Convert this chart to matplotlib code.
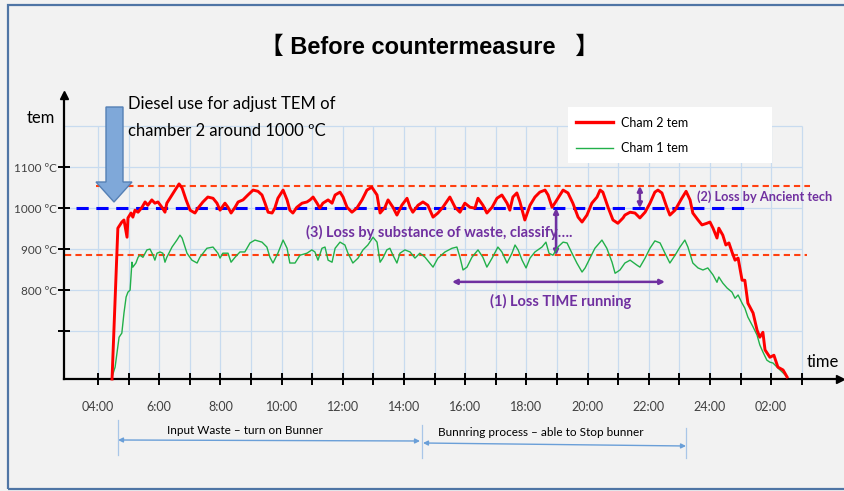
import matplotlib

matplotlib.use("Agg")
import matplotlib.pyplot as plt
from matplotlib.lines import Line2D
from matplotlib.patches import FancyArrowPatch, Polygon, Rectangle

W, H = 845, 491

# Chamber 2 temperature (hour of day, degC) - red
cham2_hours = [4.46, 4.65, 4.78, 4.85, 4.95, 4.98, 5.08, 5.14, 5.21, 5.31, 5.44, 5.54, 5.63, 5.76,
               5.86, 5.96, 6.09, 6.19, 6.25, 6.35, 6.52, 6.65, 6.75, 6.88, 7.01, 7.17, 7.27, 7.43,
               7.59, 7.76, 7.89, 7.99, 8.15, 8.25, 8.35, 8.48, 8.58, 8.74, 8.90, 9.07, 9.23, 9.36,
               9.46, 9.56, 9.69, 9.78, 9.88, 10.05, 10.18, 10.27, 10.37, 10.50, 10.67, 10.83,
               10.93, 11.03, 11.16, 11.25, 11.35, 11.52, 11.65, 11.75, 11.91, 12.01, 12.14, 12.30,
               12.46, 12.63, 12.79, 12.95, 13.12, 13.22, 13.38, 13.48, 13.64, 13.77, 13.93, 14.10,
               14.20, 14.29, 14.46, 14.62, 14.78, 14.95, 15.11, 15.27, 15.50, 15.67, 15.83, 15.99,
               16.16, 16.32, 16.42, 16.58, 16.71, 16.88, 17.04, 17.20, 17.37, 17.46, 17.56, 17.69,
               17.79, 17.95, 18.12, 18.28, 18.44, 18.61, 18.71, 18.84, 18.93, 19.03, 19.20, 19.36,
               19.52, 19.69, 19.82, 19.98, 20.14, 20.31, 20.41, 20.50, 20.67, 20.83, 20.99, 21.16,
               21.22, 21.39, 21.55, 21.71, 21.88, 22.04, 22.20, 22.30, 22.43, 22.59, 22.69, 22.86,
               23.08, 23.22, 23.35, 23.44, 23.61, 23.74, 23.90, 24.00, 24.10, 24.23, 24.29, 24.42,
               24.52, 24.62, 24.72, 24.82, 24.92, 25.05, 25.14, 25.24, 25.41, 25.54, 25.63, 25.73,
               25.80, 25.96, 26.09, 26.22, 26.39, 26.52]
cham2_temp = [583, 951, 966, 971, 929, 976, 988, 978, 995, 990, 1002, 1015, 1007, 1020,
              1012, 1015, 1002, 990, 1012, 1024, 1044, 1059, 1049, 1020, 995, 988, 1000, 1015,
              1027, 1024, 1012, 995, 1012, 1002, 988, 1002, 1015, 1020, 1032, 1044, 1041, 1032,
              1012, 990, 988, 1000, 1024, 1044, 1020, 995, 988, 1002, 1012, 1015,
              1020, 1027, 1012, 1000, 1012, 1020, 1012, 1032, 1039, 1027, 1002, 990,
              1000, 1020, 1044, 1051, 1032, 988, 1002, 1020, 1002, 983, 1007, 1024,
              1002, 990, 1007, 1015, 1007, 978, 988, 1002, 1027, 1002, 990, 1012,
              1002, 1000, 1024, 1007, 988, 1002, 1024, 1032, 1012, 995, 1027, 1037,
              1015, 971, 1007, 1027, 1039, 1044, 1032, 1002, 1012, 1024, 1044, 1037,
              1012, 978, 966, 983, 1012, 1027, 1044, 1039, 1002, 971, 963, 976,
              983, 990, 988, 976, 990, 1012, 1039, 1044, 1037, 1002, 983, 995,
              1024, 1041, 1020, 988, 971, 959, 963, 966, 951, 927, 951, 934,
              910, 915, 893, 873, 878, 824, 824, 768, 744, 702, 685, 697,
              654, 636, 641, 612, 605, 588]

# Chamber 1 temperature (hour of day, degC) - green
cham1_hours = [4.46, 4.56, 4.69, 4.78, 4.85, 4.92, 4.98, 5.05, 5.11, 5.14, 5.24, 5.31, 5.37, 5.47,
               5.60, 5.70, 5.80, 5.86, 5.93, 6.03, 6.12, 6.19, 6.25, 6.42, 6.58, 6.68, 6.75, 6.91,
               7.07, 7.24, 7.33, 7.56, 7.76, 7.92, 7.99, 8.08, 8.25, 8.35, 8.48, 8.64, 8.80, 8.97,
               9.13, 9.36, 9.52, 9.62, 9.72, 9.88, 10.05, 10.18, 10.27, 10.44, 10.60, 10.83, 10.99,
               11.09, 11.19, 11.32, 11.42, 11.52, 11.65, 11.75, 11.91, 12.07, 12.17, 12.33, 12.50,
               12.66, 12.82, 12.99, 13.12, 13.22, 13.31, 13.44, 13.54, 13.64, 13.77, 13.87, 14.03,
               14.20, 14.36, 14.52, 14.69, 14.95, 15.11, 15.34, 15.57, 15.73, 15.83, 15.93, 16.06,
               16.22, 16.42, 16.58, 16.71, 16.88, 17.07, 17.20, 17.37, 17.53, 17.63, 17.73, 17.86,
               17.99, 18.12, 18.28, 18.51, 18.64, 18.74, 18.87, 19.03, 19.20, 19.33, 19.49, 19.65,
               19.82, 19.92, 20.08, 20.24, 20.47, 20.63, 20.80, 20.90, 21.06, 21.22, 21.39, 21.61,
               21.71, 21.88, 22.04, 22.20, 22.37, 22.53, 22.69, 22.86, 23.02, 23.18, 23.28, 23.44,
               23.61, 23.77, 23.93, 24.10, 24.23, 24.29, 24.42, 24.56, 24.72, 24.82, 24.92, 25.05,
               25.14, 25.24, 25.41, 25.54, 25.63, 25.73, 25.86, 25.96, 26.06, 26.22, 26.39, 26.52]
cham1_temp = [588, 612, 685, 695, 744, 783, 795, 800, 868, 856, 866, 880, 885, 880,
              898, 900, 885, 873, 890, 893, 890, 868, 880, 905, 922, 934, 927, 890,
              873, 866, 880, 902, 905, 890, 878, 890, 890, 868, 880, 893, 893, 915,
              922, 917, 905, 880, 866, 890, 922, 902, 866, 866, 885, 890, 898,
              893, 873, 902, 905, 873, 868, 902, 917, 910, 890, 866, 878,
              898, 910, 929, 917, 868, 878, 898, 902, 885, 866, 890, 898,
              893, 878, 890, 880, 856, 878, 893, 902, 905, 880, 849, 856,
              880, 898, 880, 856, 878, 905, 893, 866, 890, 910, 898, 873,
              854, 878, 893, 905, 917, 890, 885, 905, 917, 915, 890, 866,
              844, 854, 878, 902, 922, 902, 868, 841, 849, 866, 873, 861,
              856, 878, 902, 920, 915, 890, 866, 885, 905, 922, 905, 866,
              854, 849, 854, 837, 819, 832, 817, 805, 795, 780, 788, 768,
              756, 734, 710, 690, 666, 649, 629, 624, 622, 610, 598, 588]

upper_limit = 1054
target_temp = 1000
lower_limit = 885

hour_ticks = list(range(4, 28))
label_hours = [4, 6, 8, 10, 12, 14, 16, 18, 20, 22, 24, 26]
time_labels = ["04:00", "6:00", "8:00", "10:00", "12:00", "14:00", "16:00",
               "18:00", "20:00", "22:00", "24:00", "02:00"]
temp_ticks = [700, 800, 900, 1000, 1100]
temp_labels = ["", "800 ºC", "900 ºC", "1000 ºC", "1100 ºC"]
grid_temps = [700, 800, 900, 1000, 1100, 1200]

PURPLE = "#7030a0"
GRID = "#c8dbef"


def fx(x):
    return x / W


def fy(y):
    return 1 - y / H


plt.rcParams["font.family"] = ["Lato", "DejaVu Sans"]

fig = plt.figure(figsize=(W / 100, H / 100), dpi=100)
fig.patch.set_facecolor("#f2f2f2")

# outer frame
fig.patches.append(Rectangle((fx(8), fy(489)), 1.2, fy(5) - fy(489), transform=fig.transFigure,
                             fill=False, edgecolor="#4f75a5", lw=1.6))

ax = fig.add_axes([fx(64), fy(379), fx(840) - fx(64), fy(95) - fy(379)])
ax.patch.set_alpha(0)
x0, x1 = 2.89, 28.25
ax.set_xlim(x0, x1)
ax.set_ylim(583, 1276)

ax.vlines(hour_ticks, 583, 1200, color=GRID, lw=0.9, zorder=0)
ax.hlines(grid_temps, x0, 27, color=GRID, lw=0.9, zorder=0)

for s in ["top", "right"]:
    ax.spines[s].set_visible(False)
for s in ["left", "bottom"]:
    ax.spines[s].set_linewidth(1.6)
ax.plot(1, 0, ">", color="k", ms=6, transform=ax.transAxes, clip_on=False)
ax.plot(0, 1, "^", color="k", ms=6, transform=ax.transAxes, clip_on=False)

ax.set_xticks(hour_ticks)
ax.set_xticklabels([time_labels[label_hours.index(h)] if h in label_hours else "" for h in hour_ticks])
ax.set_yticks(temp_ticks)
ax.set_yticklabels(temp_labels)
ax.tick_params(axis="x", direction="inout", length=8, width=1.4, pad=12, labelsize=9,
               labelcolor="#404040")
ax.tick_params(axis="y", direction="inout", length=8, width=1.4, pad=1, labelsize=8.5,
               labelcolor="#404040")

# reference levels
ax.hlines(upper_limit, 3.93, 27.27, color="#ff4010", lw=1.5, linestyles=(0, (3, 2)))
ax.hlines(target_temp, 3.28, 25.14, color="#0000ff", lw=2.2, linestyles=(0, (4, 2.5)), zorder=3)
ax.hlines(lower_limit, 2.92, 27.17, color="#ff4010", lw=1.5, linestyles=(0, (3, 2)))

ax.plot(cham1_hours, cham1_temp, color="#22b04a", lw=1.0, clip_on=False, zorder=4)
ax.plot(cham2_hours, cham2_temp, color="#ff0000", lw=2.1, clip_on=False, zorder=5)

# legend
fig.patches.append(Rectangle((fx(568), fy(163)), fx(772) - fx(568), fy(107) - fy(163),
                             transform=fig.transFigure, facecolor="white", edgecolor="none"))
handles = [Line2D([], [], color="#ff0000", lw=2.4), Line2D([], [], color="#22b04a", lw=1.0)]
fig.legend(handles, ["Cham 2 tem", "Cham 1 tem"], loc="center left",
           bbox_to_anchor=(fx(576), fy(135.5)), frameon=False, fontsize=9,
           handlelength=3, handletextpad=0.6, labelspacing=1.1, borderpad=0, borderaxespad=0)

# axis captions
fig.text(fx(41), fy(118), "tem", fontsize=12, ha="center", va="center")
fig.text(fx(823), fy(362), "time", fontsize=12, ha="center", va="center")

# title
fig.text(fx(430), fy(47), "【 Before countermeasure   】", fontsize=17, fontweight="bold",
         ha="center", va="center", family=["Liberation Sans", "Noto Sans CJK JP"])

# diesel block arrow
arrow_px = [(106, 107), (123, 107), (123, 182), (132, 182), (114, 202), (96, 182), (106, 182)]
fig.patches.append(Polygon([(fx(x), fy(y)) for x, y in arrow_px], closed=True,
                           transform=fig.transFigure, facecolor="#7fa8d9",
                           edgecolor="#5580b5", lw=1))
fig.text(fx(128), fy(104), "Diesel use for adjust TEM of", fontsize=12, va="center")
fig.text(fx(128), fy(131), "chamber 2 around 1000 ºC", fontsize=12, va="center")

# loss annotations
arr = dict(arrowstyle="<|-|>", color=PURPLE, lw=1.8, mutation_scale=7, shrinkA=0, shrinkB=0)
ax.annotate("", xy=(21.71, upper_limit), xytext=(21.71, target_temp), arrowprops=arr)
ax.annotate("", xy=(18.97, target_temp), xytext=(18.97, lower_limit), arrowprops=arr)
ax.annotate("", xy=(15.57, 820), xytext=(22.53, 820), arrowprops=arr)
fig.text(fx(697), fy(197), "(2) Loss by Ancient tech", fontsize=9.2, color=PURPLE,
         fontweight="bold", va="center")
fig.text(fx(306), fy(232), "(3) Loss by substance of waste, classify….", fontsize=10.5,
         color=PURPLE, fontweight="bold", va="center")
fig.text(fx(561), fy(301), "(1) Loss TIME running", fontsize=10.5, color=PURPLE,
         fontweight="bold", ha="center", va="center")

# process phases under the time axis
phase_blue = "#6a9fd8"
for x, ya, yb in [(118, 420, 455), (422, 425, 458), (686, 428, 458)]:
    fig.add_artist(Line2D([fx(x), fx(x)], [fy(ya), fy(yb)], color="#a9c6e8", lw=0.9))
for xa, xb, ya, yb in [(118, 420, 440, 441), (423, 686, 443, 446)]:
    fig.add_artist(FancyArrowPatch((fx(xa), fy(ya)), (fx(xb), fy(yb)), transform=fig.transFigure,
                                   arrowstyle="<|-|>", mutation_scale=7, color=phase_blue, lw=1.0,
                                   shrinkA=0, shrinkB=0))
fig.text(fx(245), fy(431), "Input Waste – turn on Bunner", fontsize=8.5, ha="center", va="center")
fig.text(fx(541), fy(433), "Bunnring process – able to Stop bunner", fontsize=8.5,
         ha="center", va="center")

fig.savefig("out.png", dpi=100, facecolor=fig.get_facecolor())
